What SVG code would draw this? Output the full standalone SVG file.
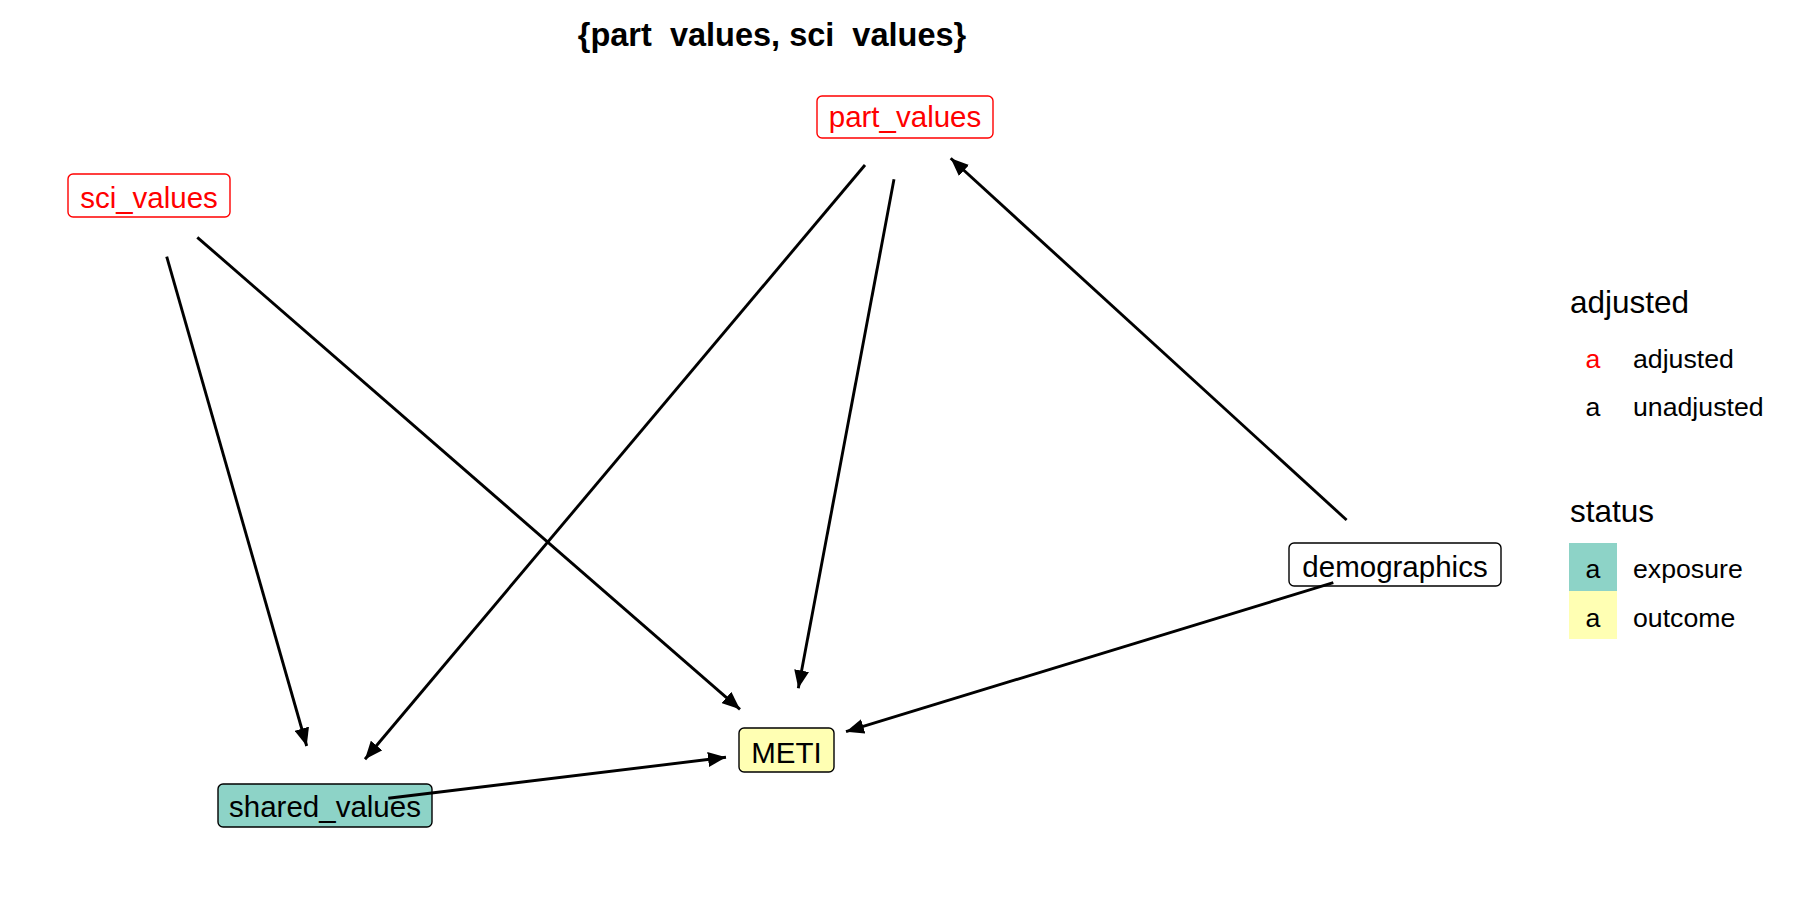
<svg xmlns="http://www.w3.org/2000/svg" width="1800" height="900" viewBox="0 0 1800 900">
<style>
text{font-family:"Liberation Sans",Arial,sans-serif}
.lbl{font-size:29.5px;text-anchor:middle}
.adj{fill:#FF0000}
.box{stroke-width:1.4}
.boxadj{fill:#FFFFFF;stroke:#FF0000}
.boxun{fill:#FFFFFF;stroke:#000000}
.exp{fill:#8DD3C7;stroke:#000000}
.out{fill:#FFFFB3;stroke:#000000}
.edge{stroke:#000000;stroke-width:2.9;fill:none;marker-end:url(#arr)}
.lt{font-size:31.5px}
.ll{font-size:26.7px}
</style>
<defs>
<marker id="arr" viewBox="0 0 18 15" refX="18" refY="7.5" markerWidth="18" markerHeight="15" markerUnits="userSpaceOnUse" orient="auto">
<path d="M0,0 L18,7.5 L0,15 Z" fill="#000000"/>
</marker>
</defs>
<rect width="1800" height="900" fill="#FFFFFF"/>
<text x="772" y="46" font-size="32.5" font-weight="bold" text-anchor="middle" xml:space="preserve">{part  values, sci  values}</text>
<g id="node-sci_values">
<rect class="box boxadj" x="68" y="174" width="162" height="43" rx="5"/>
<text class="lbl adj" x="149" y="207.5">sci_values</text>
</g>
<g id="node-part_values">
<rect class="box boxadj" x="817" y="96" width="176" height="42" rx="5"/>
<text class="lbl adj" x="905" y="127">part_values</text>
</g>
<g id="node-demographics">
<rect class="box boxun" x="1289" y="543" width="212" height="43" rx="5"/>
<text class="lbl" x="1395" y="577">demographics</text>
</g>
<g id="node-shared_values">
<rect class="box exp" x="218" y="784" width="214" height="43" rx="5"/>
<text class="lbl" x="325" y="817">shared_values</text>
</g>
<g id="node-METI">
<rect class="box out" x="739" y="728" width="95" height="44" rx="5"/>
<text class="lbl" x="786.5" y="762.5">METI</text>
</g>
<g id="edges">
<line class="edge" x1="166.7" y1="256.7" x2="306.7" y2="746"/>
<line class="edge" x1="197.3" y1="237.3" x2="740" y2="709.3"/>
<line class="edge" x1="865" y1="165" x2="365" y2="759.3"/>
<line class="edge" x1="894" y1="179.3" x2="798.3" y2="688.3"/>
<line class="edge" x1="1346.6" y1="520" x2="950.7" y2="158.3"/>
<line class="edge" x1="1333.3" y1="582.7" x2="846" y2="731.7"/>
<line class="edge" x1="388.3" y1="798.3" x2="726" y2="757.3"/>
</g>
<g id="legend">
<text class="lt" x="1570" y="312.7">adjusted</text>
<text class="ll adj" x="1593" y="368" text-anchor="middle">a</text>
<text class="ll" x="1633" y="368">adjusted</text>
<text class="ll" x="1593" y="416" text-anchor="middle">a</text>
<text class="ll" x="1633" y="416">unadjusted</text>
<text class="lt" x="1570" y="522">status</text>
<rect x="1569" y="543" width="48" height="48" fill="#8DD3C7"/>
<rect x="1569" y="591" width="48" height="48" fill="#FFFFB3"/>
<text class="ll" x="1593" y="578.3" text-anchor="middle">a</text>
<text class="ll" x="1633" y="578.3">exposure</text>
<text class="ll" x="1593" y="626.7" text-anchor="middle">a</text>
<text class="ll" x="1633" y="626.7">outcome</text>
</g>
</svg>
